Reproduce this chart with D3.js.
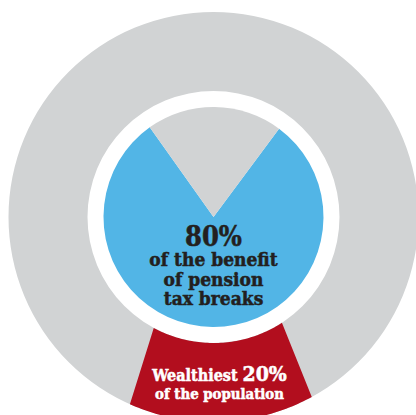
<!DOCTYPE html>
<html>
<head>
<meta charset="utf-8">
<script src="https://cdn.jsdelivr.net/npm/d3@7"></script>
<style>
  body { margin: 0; background: #fff; }
  svg { display: block; }
  .lbl { font-family: "DejaVu Serif Condensed", "DejaVu Serif", serif; font-weight: bold; text-anchor: middle; stroke-width: 0.5; }
</style>
</head>
<body>
<div id="chart"></div>
<script>
// inner pie: who gets the benefit of pension tax breaks
var benefitGroups = ["Wealthiest 20%", "Everyone else"];
var benefitValues = [80, 20];
var benefitColors = ["#52b5e6", "#d1d3d4"];

// outer ring: population (red wedge as drawn in the graphic)
var popGroups = ["Wealthiest 20%", "Rest of the population"];
var popValues = [17, 83];
var popColors = ["#b20e1e", "#d1d3d4"];

var headline = "80%";
var benefitText = ["of the benefit", "of pension", "tax breaks"];
var popTextTop = ["Wealthiest ", "20%"];
var popTextBottom = "of the population";

var svgWidth = 416;
var svgHeight = 415;
var cx = 213.5, cy = 217;
var pieRadius = 110;
var ringInner = 126, ringOuter = 205;

var svg = d3.select("#chart")
  .append("svg")
  .attr("width", svgWidth)
  .attr("height", svgHeight);

var g = svg.append("g")
  .attr("transform", `translate(${cx}, ${cy})`);

// outer ring background
g.append("path")
  .attr("d", d3.arc().innerRadius(ringInner).outerRadius(ringOuter).startAngle(0).endAngle(2 * Math.PI)())
  .attr("fill", popColors[1]);

// red wedge, centred a touch right of the bottom, edges slightly tapered
var popTotal = d3.sum(popValues);
var popStart = Math.PI - 0.04 - Math.PI * popValues[0] / popTotal;
var popPie = d3.pie().sort(null)
  .startAngle(popStart)
  .endAngle(popStart + 2 * Math.PI);
var popArcs = popPie(popValues);
var taper = 0.074;

var red = popArcs[0];
var steps = d3.range(0, 1.0001, 1 / 60);
var wedge = d3.areaRadial()
  .startAngle(t => red.startAngle + t * (red.endAngle - red.startAngle))
  .endAngle(t => red.startAngle + taper + t * (red.endAngle - red.startAngle - 2 * taper))
  .innerRadius(ringInner)
  .outerRadius(ringOuter);

g.append("path")
  .attr("d", wedge(steps))
  .attr("fill", popColors[0]);

// inner pie, grey slice centred on the top
var benTotal = d3.sum(benefitValues);
var benStart = Math.PI * benefitValues[1] / benTotal + 0.01;
var benPie = d3.pie().sort(null)
  .startAngle(benStart)
  .endAngle(benStart + 2 * Math.PI);
var benArc = d3.arc().innerRadius(0).outerRadius(pieRadius);

g.selectAll(".slice")
  .data(benPie(benefitValues))
  .enter()
  .append("path")
  .attr("class", "slice")
  .attr("d", benArc)
  .attr("fill", (d, i) => benefitColors[i]);

// texts in the blue pie
g.append("text")
  .attr("class", "lbl")
  .attr("x", 0)
  .attr("y", 246 - cy)
  .attr("font-size", 27)
  .attr("fill", "#231f20")
  .attr("stroke", "#231f20")
  .text(headline);

g.selectAll(".ben")
  .data(benefitText)
  .enter()
  .append("text")
  .attr("class", "lbl ben")
  .attr("x", 0)
  .attr("y", (d, i) => 266 - cy + i * 19.5)
  .attr("font-size", 19)
  .attr("fill", "#231f20")
  .attr("stroke", "#231f20")
  .text(d => d);

// texts in the red wedge
var popLine = g.append("text")
  .attr("class", "lbl")
  .attr("x", 6)
  .attr("y", 381 - cy)
  .attr("fill", "#fff")
  .attr("stroke", "#fff");
popLine.append("tspan").attr("font-size", 16).text(popTextTop[0]);
popLine.append("tspan").attr("font-size", 21).text(popTextTop[1]);

g.append("text")
  .attr("class", "lbl")
  .attr("x", 6)
  .attr("y", 399 - cy)
  .attr("font-size", 14.8)
  .attr("fill", "#fff")
  .attr("stroke", "#fff")
  .text(popTextBottom);
</script>
</body>
</html>
